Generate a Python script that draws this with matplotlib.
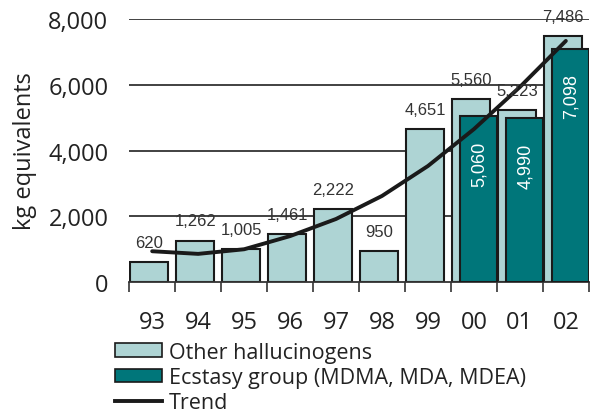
import numpy as np
import matplotlib.pyplot as plt
from matplotlib.patches import Patch
from matplotlib.lines import Line2D

years = ["93", "94", "95", "96", "97", "98", "99", "00", "01", "02"]
other_halluc = [620, 1262, 1005, 1461, 2222, 950, 4651, 5560, 5223, 7486]
ecstasy_years = ["00", "01", "02"]
ecstasy = [5060, 4990, 7098]
trend = [940, 860, 1000, 1400, 1920, 2620, 3530, 4650, 5930, 7330]

LIGHT = "#aed4d4"
DARK = "#00767a"

plt.rcParams['font.family'] = ['Open Sans', 'DejaVu Sans']

fig = plt.figure(figsize=(5.9, 4.14), dpi=100)
ax = fig.add_axes([0.219, 0.316, 0.779, 0.636])

x = np.arange(len(years))
# grid lines behind bars
for yv in [2000, 4000, 6000, 8000]:
    ax.axhline(yv, color="#333333", lw=1.3, zorder=0)

ax.bar(x - 0.5 + 0.02, other_halluc, width=0.83, align="edge",
       color=LIGHT, edgecolor="#1a1a1a", lw=1.5, zorder=2)
ex = np.array([years.index(y) for y in ecstasy_years])
ax.bar(ex - 0.5 + 0.2, ecstasy, width=0.8, align="edge",
       color=DARK, edgecolor="#1a1a1a", lw=1.5, zorder=3)
ax.plot(x, trend, color="#1a1a1a", lw=2.8, zorder=4, solid_capstyle="round")

for xi, v in zip(x, other_halluc):
    ax.text(xi - 0.5 + 0.02 + 0.415, v + 600, f"{v:,}", ha="center", va="center",
            fontsize=12, color="#333333", family=["Liberation Sans"], zorder=5,
            clip_on=False)
for xi, v in zip(ex, ecstasy):
    ax.text(xi - 0.5 + 0.2 + 0.42, v - 750, f"{v:,}", ha="center", va="top",
            rotation=90, fontsize=13, color="white", family=["Liberation Sans"], zorder=5)

ax.set_xlim(-0.5, len(years) - 0.5)
ax.set_ylim(0, 8000)
ax.set_yticks([0, 2000, 4000, 6000, 8000])
ax.set_yticklabels([f"{v:,}" for v in [0, 2000, 4000, 6000, 8000]])
ax.tick_params(axis="y", length=0, labelsize=17, pad=15, colors="#222222")
ax.set_xticks(np.arange(len(years) + 1) - 0.5)
ax.set_xticklabels([])
ax.set_xticks(x, minor=True)
ax.set_xticklabels(years, minor=True)
ax.tick_params(axis="x", which="major", length=7, width=1.2, color="#333333")
ax.tick_params(axis="x", which="minor", length=0, pad=20, labelsize=17, colors="#222222")
for s in ["top", "right", "left"]:
    ax.spines[s].set_visible(False)
ax.spines["bottom"].set_color("#333333")
ax.spines["bottom"].set_linewidth(1.3)
ax.set_ylabel("kg equivalents", fontsize=17, color="#222222", labelpad=8)

handles = [Patch(facecolor=LIGHT, edgecolor="#1a1a1a", lw=1.2),
           Patch(facecolor=DARK, edgecolor="#1a1a1a", lw=1.2),
           Line2D([0], [0], color="#1a1a1a", lw=2.8)]
labels = ["Other hallucinogens", "Ecstasy group (MDMA, MDA, MDEA)", "Trend"]
fig.legend(handles, labels, loc="upper left", bbox_to_anchor=(0.195, 0.172),
           frameon=False, fontsize=15.5, handlelength=2.2, handleheight=0.6,
           handletextpad=0.3, labelspacing=0.2, borderpad=0, borderaxespad=0,
           labelcolor="#222222")

fig.savefig("out.png", dpi=100)
